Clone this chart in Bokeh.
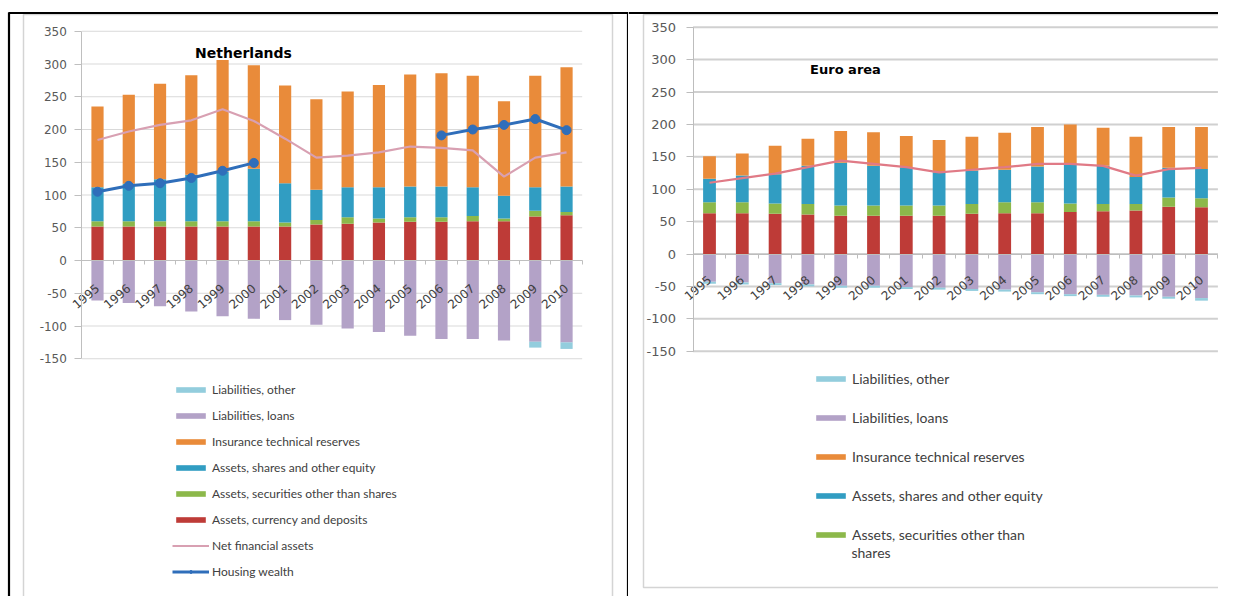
import math
import numpy as np
from bokeh.plotting import figure
from bokeh.models import (ColumnDataSource, Range1d, LinearAxis, FixedTicker,
                          Legend, LegendItem)
from bokeh.layouts import row
from bokeh.core.properties import value
from bokeh.embed import file_html
from bokeh.resources import INLINE

# ---------------- data ----------------
years = ["1995", "1996", "1997", "1998", "1999", "2000", "2001", "2002",
         "2003", "2004", "2005", "2006", "2007", "2008", "2009", "2010"]
y_ticks = [-150, -100, -50, 0, 50, 100, 150, 200, 250, 300, 350]

# Netherlands
nl_currency = [52, 52, 52, 52, 52, 52, 52, 55, 56, 58, 59, 59, 60, 60, 67, 69]
nl_securities = [8, 8, 8, 8, 8, 8, 6, 7, 10, 6, 7, 7, 8, 4, 9, 5]
nl_shares = [52, 57, 64, 71, 76, 80, 60, 46, 46, 48, 47, 47, 44, 35, 36, 39]
nl_insurance = [123, 136, 146, 152, 170, 158, 149, 138, 146, 156, 171, 173, 170, 144, 170, 182]
nl_loans = [-61, -65, -70, -78, -85, -89, -91, -98, -104, -109, -115, -120, -120, -122, -124, -125]
nl_other = [0, 0, 0, 0, 0, 0, 0, 0, 0, 0, 0, 0, 0, 0, -9, -10]
nl_net = [184, 197, 207, 214, 231, 213, 186, 157, 160, 165, 174, 172, 168, 128, 157, 165]
nan = float("nan")
nl_housing = [105, 114, 118, 126, 137, 149, nan, nan, nan, nan, nan, 191, 200, 207, 216, 199]

# Euro area
ea_currency = [63, 63, 62, 61, 59, 59, 59, 59, 62, 63, 63, 65, 66, 67, 73, 72]
ea_securities = [17, 17, 16, 16, 16, 16, 16, 16, 15, 17, 17, 13, 11, 10, 14, 14]
ea_shares = [36, 41, 45, 59, 66, 61, 59, 51, 52, 50, 55, 61, 59, 42, 46, 45]
ea_insurance = [35, 34, 44, 42, 49, 52, 48, 50, 52, 57, 61, 61, 59, 62, 63, 65]
ea_loans = [-43, -44, -45, -47, -49, -49, -51, -52, -54, -55, -59, -62, -63, -64, -66, -68]
ea_other = [-3, -3, -3, -3, -3, -3, -3, -3, -3, -3, -3, -3, -3, -3, -3, -4]
ea_net = [110, 117, 124, 134, 144, 139, 134, 126, 130, 134, 139, 139, 136, 121, 131, 133]

labels = {
    "other": "Liabilities, other",
    "loans": "Liabilities, loans",
    "insurance": "Insurance technical reserves",
    "shares": "Assets, shares and other equity",
    "securities": "Assets, securities other than shares",
    "currency": "Assets, currency and deposits",
    "net": "Net financial assets",
    "housing": "Housing wealth",
}

colors = {
    "other": "#93CDDD",
    "loans": "#B3A2C7",
    "insurance": "#E98B3A",
    "shares": "#319DC2",
    "securities": "#8CB84A",
    "currency": "#BE3B37",
    "housing": "#2F6EBA",
}

TXT = "#404040"


def build(cfg, d):
    n = len(years)
    W, H = cfg["W"], cfg["H"]
    fl, ft = cfg["page_left"], cfg["page_top"]

    def X(px):
        return (px - cfg["x0"]) / cfg["dx"]

    def Y(py):
        return (cfg["y0"] - py) / cfg["ky"]

    p = figure(width=W, height=H, x_range=Range1d(X(fl), X(fl + W)),
               y_range=Range1d(Y(ft + H), Y(ft)), x_axis_type=None, y_axis_type=None,
               toolbar_location=None, output_backend="svg", min_border=0, title=None,
               outline_line_color=None, background_fill_color="white",
               border_fill_color="white")

    # chart-area box and table borders (layout decoration)
    bx = cfg["box"]
    p.quad(left=[X(bx[0])], right=[X(bx[1])], top=[Y(bx[2])], bottom=[Y(bx[3])],
           fill_color=None, line_color="#d4d4d4", line_width=1.5)
    for (x_a, y_a, x_b, y_b) in cfg["black"]:
        p.segment(x0=[X(x_a)], y0=[Y(y_a)], x1=[X(x_b)], y1=[Y(y_b)],
                  line_color="black", line_width=2.2)

    # gridlines
    p.segment(x0=-0.5, x1=n - 0.5, y0=y_ticks, y1=y_ticks,
              line_color=cfg["grid_color"], line_width=cfg["grid_width"])

    src = ColumnDataSource(dict(
        x=list(range(n)), currency=d["currency"], securities=d["securities"],
        shares=d["shares"], insurance=d["insurance"], loans=d["loans"],
        other=d["other"], net=d["net"],
        housing=np.array(d.get("housing", [nan] * n), dtype=float)))

    pos_keys = ["currency", "securities", "shares", "insurance"]
    pos = p.vbar_stack(pos_keys, x="x", width=0.39, source=src,
                       fill_color=[colors[k] for k in pos_keys], line_color=None)
    neg_keys = ["loans", "other"]
    neg = p.vbar_stack(neg_keys, x="x", width=0.39, source=src,
                       fill_color=[colors[k] for k in neg_keys], line_color=None)
    rend = dict(zip(pos_keys, pos))
    rend.update(dict(zip(neg_keys, neg)))

    rend["net"] = p.line(x="x", y="net", source=src, line_color=cfg["net_color"],
                         line_width=2.2)
    if "housing" in d:
        hl = p.line(x="x", y="housing", source=src, line_color=colors["housing"],
                    line_width=3)
        hm = p.scatter(x="x", y="housing", source=src, marker="circle", size=9,
                       fill_color=colors["housing"], line_color=colors["housing"])
        rend["housing"] = [hl, hm]

    # axes
    yaxis = LinearAxis(fixed_location=-0.5, ticker=FixedTicker(ticks=y_ticks),
                       bounds=(y_ticks[0], y_ticks[-1]),
                       major_label_overrides={t: str(t) for t in y_ticks},
                       axis_line_color=cfg["axis_color"], axis_line_width=1,
                       major_tick_line_color=cfg["axis_color"], major_tick_out=7,
                       major_tick_in=0, minor_tick_line_color=None,
                       major_label_standoff=cfg["ystandoff"],
                       major_label_text_font="DejaVu Sans",
                       major_label_text_font_size=cfg["yfont"],
                       major_label_text_color="#595959")
    p.add_layout(yaxis, "left")

    xaxis = LinearAxis(fixed_location=0,
                       ticker=FixedTicker(ticks=list(range(n)),
                                          minor_ticks=[i - 0.5 for i in range(n + 1)]),
                       bounds=(-0.5, n - 0.5),
                       major_label_overrides={i: yr for i, yr in enumerate(years)},
                       major_label_orientation=0.70,
                       axis_line_color=cfg["axis_color"], major_tick_line_color=None,
                       minor_tick_line_color=cfg["axis_color"], minor_tick_out=4,
                       minor_tick_in=0, major_label_standoff=cfg["xstandoff"],
                       major_label_text_font="DejaVu Sans",
                       major_label_text_font_size="12px",
                       major_label_text_color=TXT)
    p.add_layout(xaxis, "below")

    # title
    tx, ty = cfg["title_pos"]
    p.text(x=[X(tx)], y=[Y(ty)], text=[cfg["title"]], text_font=value("DejaVu Sans"),
           text_font_style="bold", text_font_size=cfg["title_size"], text_color="black",
           text_align="center", text_baseline="middle")

    items = []
    for k in cfg["legend_keys"]:
        r = rend[k]
        items.append(LegendItem(label=cfg.get("legend_labels", {}).get(k, labels[k]),
                                renderers=r if isinstance(r, list) else [r]))
    leg = Legend(items=items, location=cfg["legend_loc"], orientation="vertical",
                 glyph_width=37, glyph_height=7, label_height=cfg["label_h"],
                 spacing=cfg["leg_spacing"], padding=0, margin=0, label_standoff=3,
                 border_line_color=None, background_fill_alpha=0,
                 label_text_font="Lato", label_text_font_size=cfg["leg_font"],
                 label_text_color=TXT, label_text_baseline="middle")
    p.add_layout(leg)

    for (txt, px, py) in cfg.get("extra_text", []):
        p.text(x=[X(px)], y=[Y(py)], text=[txt], text_font=value("Lato"),
               text_font_size=cfg["leg_font"], text_color=TXT, text_align="left",
               text_baseline="middle")
    return p


H_ALL = 596
nl_cfg = dict(W=628, H=H_ALL, page_left=0, page_top=0, x0=97, dx=31.27, y0=260, ky=0.655,
              box=(23, 612, 14, 598),
              black=[(8, 12.5, 628, 12.5), (8.5, 12, 8.5, 612), (627.5, 12, 627.5, 612)],
              grid_color="#d9d9d9", grid_width=1, axis_color="#bfbfbf",
              ystandoff=8, yfont="12px", xstandoff=20, net_color="#D8A0B2",
              title="Netherlands", title_pos=(243, 52), title_size="14px",
              legend_keys=["other", "loans", "insurance", "shares", "securities",
                           "currency", "net", "housing"],
              legend_loc=(172, 17), label_h=15, leg_spacing=11, leg_font="12px")

ea_cfg = dict(W=590, H=H_ALL, page_left=628, page_top=0, x0=709, dx=32.8, y0=253.5, ky=0.648,
              box=(643, 1240, 14, 587),
              black=[(628, 12.5, 1240, 12.5)],
              grid_color="#d0d0d0", grid_width=2, axis_color="#bdbdbd",
              ystandoff=10, yfont="13px", xstandoff=18, net_color="#E07A86",
              title="Euro area", title_pos=(845, 69), title_size="13px",
              legend_keys=["other", "loans", "insurance", "shares", "securities"],
              legend_labels={"securities": "Assets, securities other than"},
              legend_loc=(184, 53), label_h=17, leg_spacing=22, leg_font="14px",
              extra_text=[("shares", 851, 552)])

nl = dict(currency=nl_currency, securities=nl_securities, shares=nl_shares,
          insurance=nl_insurance, loans=nl_loans, other=nl_other, net=nl_net,
          housing=nl_housing)
ea = dict(currency=ea_currency, securities=ea_securities, shares=ea_shares,
          insurance=ea_insurance, loans=ea_loans, other=ea_other, net=ea_net)

p1 = build(nl_cfg, nl)
p2 = build(ea_cfg, ea)
layout = row(p1, p2)

open("out.html", "w").write(file_html(layout, INLINE))
